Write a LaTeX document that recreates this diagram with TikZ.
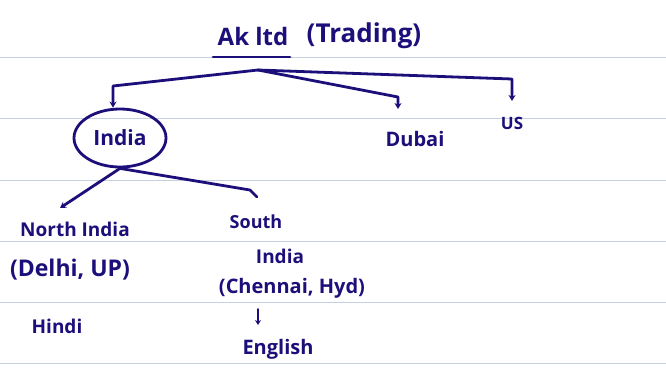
\documentclass[tikz,border=0pt]{standalone}
\usepackage{fontspec}
\setmainfont{Open Sans}
\usetikzlibrary{shapes.geometric,arrows.meta}
\definecolor{ink}{HTML}{1C0F7A}
\definecolor{rule}{HTML}{C5D0E2}
\newcommand{\fs}[1]{\fontsize{#1}{#1}\selectfont\bfseries}
\begin{document}
\begin{tikzpicture}[x=1pt,y=-1pt,
  hand/.style={text=ink, inner sep=1pt, font=\fs{19}},
  wire/.style={draw=ink, line width=2.8pt, line cap=round, line join=round},
  arr/.style={wire, -{Stealth[length=6pt,width=7pt]}},
  paper/.style={draw=rule, line width=0.8pt}]
\useasboundingbox (0,0) rectangle (666,381);
\fill[white] (0,0) rectangle (666,381);
\foreach \yy in {57,118,180,241,302,363} \draw[paper] (0,\yy) -- (666,\yy);

% title
\node[hand, font=\fs{24}] (title) at (253,36) {Ak ltd};
\node[hand, font=\fs{26}] (kind) at (364,36) {(Trading)};
\coordinate (ul1) at (213,57);
\coordinate (ul2) at (290,57);
\draw[wire] (ul1) -- (ul2);

% first level
\node[hand, font=\fs{21}, draw=ink, line width=2.8pt, ellipse, minimum width=92pt, minimum height=58pt, inner sep=0pt] (india) at (120,138) {India};
\node[hand, font=\fs{20}] (dubai) at (415,139) {Dubai};
\node[hand, font=\fs{17}] (us) at (512,123) {US};

\coordinate (j) at (258,70);
\coordinate (ic) at (113,86);
\coordinate (dc) at (398,97);
\coordinate (uc) at (512,79);
\coordinate (de) at (398,109);
\coordinate (ue) at (512,101);

\draw[arr] (j) -- (ic) -- (ic |- india.north);
\draw[arr] (j) -- (dc) -- (de);
\draw[arr] (j) -- (uc) -- (ue);

% second level
\node[hand] (north) at (75,229) {North India};
\node[hand, font=\fs{23}] (delhi) at (70,270) {(Delhi, UP)};
\node[hand] (hindi) at (57,326) {Hindi};

\node[hand, font=\fs{18}] (south) at (256,222) {South};
\node[hand] (sindia) at (280,256) {India};
\node[hand, font=\fs{20}] (chennai) at (292,288) {(Chennai, Hyd)};
\node[hand, font=\fs{20}] (english) at (278,349) {English};

\coordinate (nend) at (60,208);
\coordinate (send) at (257,197);
\draw[arr] (india.south) -- (nend);
\draw[wire] (india.south) -- (250,190) -- (send);
\coordinate (ea) at (258,309);
\coordinate (eb) at (258,325);
\draw[arr, -{Stealth[length=5pt,width=6pt]}, line width=2pt] (ea) -- (eb);
\end{tikzpicture}
\end{document}
